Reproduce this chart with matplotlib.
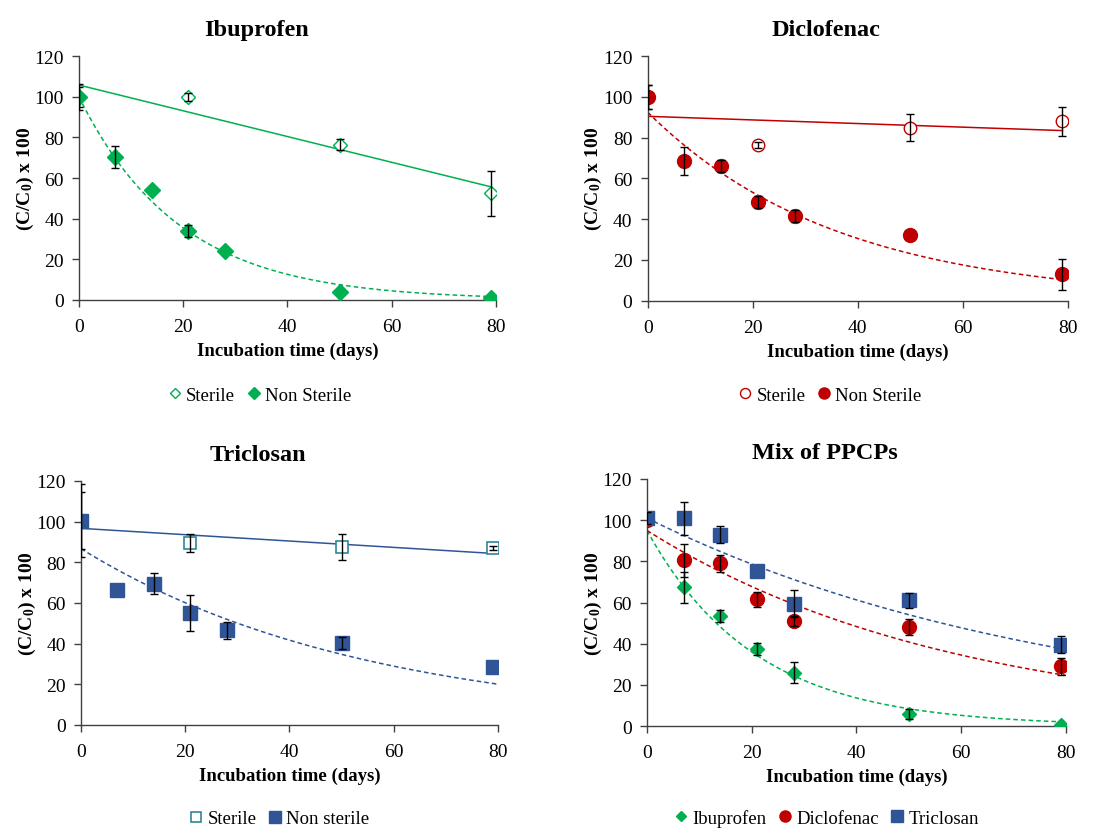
import matplotlib
matplotlib.use('Agg')
import matplotlib.pyplot as plt
import numpy as np

plt.rcParams['font.family'] = ['Liberation Serif', 'DejaVu Serif']
plt.rcParams['mathtext.fontset'] = 'custom'
plt.rcParams['mathtext.rm'] = 'Liberation Serif'
plt.rcParams['mathtext.bf'] = 'Liberation Serif:bold'
plt.rcParams['mathtext.default'] = 'bf'

# sampling days
days = [0, 7, 14, 21, 28, 50, 79]
days_ster = [0, 21, 50, 79]

# Ibuprofen
ibu_ster = [100, 100, 76.5, 52.5]
ibu_ster_err = [6.5, 2, 2.5, 11]
ibu_ns = [100, 70.5, 54, 34, 24, 4, 1]
ibu_ns_err = [5, 5.5, 0, 3, 0, 0, 0]
ibu_lin = (105.8, -0.634)      # sterile linear trend (intercept, slope)
ibu_exp = (100, 0.0518)        # non sterile exponential trend (C0, k)

# Diclofenac
dic_ster = [100, 76.5, 85, 88]
dic_ster_err = [6, 1.5, 6.5, 7]
dic_ns = [100, 68.5, 66, 48.5, 41.5, 32.5, 13]
dic_ns_err = [6, 7, 3, 3, 3, 0, 7.5]
dic_lin = (90.5, -0.0886)
dic_exp = (92.5, 0.0277)

# Triclosan
tri_ster = [100.5, 89.5, 87.5, 87]
tri_ster_err = [14, 4.5, 6.5, 1]
tri_ns = [100.5, 66.5, 69.5, 55, 46.5, 40.5, 28.5]
tri_ns_err = [18, 0, 5, 9, 4, 3, 0]
tri_lin = (96.7, -0.156)
tri_exp = (86.7, 0.0183)

# Mix of PPCPs
mix_ibu = [100, 67.5, 53.5, 37.5, 26, 6, 0.5]
mix_ibu_err = [0, 7.5, 3, 3, 5, 2.5, 0]
mix_dic = [100, 80.5, 79, 61.5, 51, 48, 29]
mix_dic_err = [0, 8, 4, 3.5, 2.5, 4, 4]
mix_tri = [101, 101, 93, 75.5, 59.5, 61, 39.5]
mix_tri_err = [3, 8, 4, 0, 6.5, 3.5, 4]
mix_ibu_exp = (95, 0.0485)
mix_dic_exp = (95, 0.0169)
mix_tri_exp = (101, 0.0125)

green = '#00B050'
red = '#C00000'
blue = '#2F5597'
teal = '#31859C'
axcol = '#404040'

fig = plt.figure(figsize=(11.12, 8.29), dpi=100)


def style(ax, title):
    ax.set_xlim(0, 80)
    ax.set_ylim(0, 120)
    ax.set_xticks([0, 20, 40, 60, 80])
    ax.set_yticks(range(0, 121, 20))
    for s in ['top', 'right']:
        ax.spines[s].set_visible(False)
    for s in ['left', 'bottom']:
        ax.spines[s].set_color(axcol)
        ax.spines[s].set_linewidth(1.0)
    ax.tick_params(direction='out', length=5, width=1, color=axcol, labelsize=14)
    ax.tick_params(axis='x', pad=8)
    ax.tick_params(axis='y', pad=6)
    ax.set_title(title, fontsize=17.5, fontweight='bold', pad=15, x=0.425)
    ax.set_xlabel('Incubation time (days)', fontsize=13.5, fontweight='bold', labelpad=5)
    ax.set_ylabel('(C/C$_0$) x 100', fontsize=14, fontweight='bold', labelpad=-1)


def lin(ax, p, color, end=79):
    t = np.linspace(0, end, 50)
    ax.plot(t, p[0] + p[1] * t, color=color, lw=1.1, zorder=2)


def expo(ax, p, color, end=80):
    t = np.linspace(0, end, 200)
    ax.plot(t, p[0] * np.exp(-p[1] * t), color=color, lw=1.1, ls=(0, (3, 2)), zorder=2)


def errs(ax, x, y, e):
    # only points that carry a visible error bar
    keep = [i for i in range(len(e)) if e[i] > 0]
    ax.errorbar([x[i] for i in keep], [y[i] for i in keep], yerr=[e[i] for i in keep],
                fmt='none', ecolor='black', elinewidth=1, capsize=3, capthick=1, zorder=5)


# Ibuprofen
ax1 = fig.add_axes([0.071, 0.637, 0.375, 0.294])
lin(ax1, ibu_lin, green)
expo(ax1, ibu_exp, green)
ax1.plot(days_ster, ibu_ster, 'D', ms=7, mfc='white', mec=green, mew=1, ls='none', label='Sterile', zorder=3)
ax1.plot(days, ibu_ns, 'D', ms=8, color=green, ls='none', label='Non Sterile', zorder=4)
errs(ax1, days_ster, ibu_ster, ibu_ster_err)
errs(ax1, days, ibu_ns, ibu_ns_err)
style(ax1, 'Ibuprofen')

# Diclofenac
ax2 = fig.add_axes([0.5825, 0.636, 0.3777, 0.295])
lin(ax2, dic_lin, red)
expo(ax2, dic_exp, red, end=79)
ax2.plot(days_ster, dic_ster, 'o', ms=9, mfc='white', mec=red, mew=1, ls='none', label='Sterile', zorder=3)
ax2.plot(days, dic_ns, 'o', ms=10, color=red, ls='none', label='Non Sterile', zorder=4)
errs(ax2, days_ster, dic_ster, dic_ster_err)
errs(ax2, days, dic_ns, dic_ns_err)
style(ax2, 'Diclofenac')

# Triclosan
ax3 = fig.add_axes([0.0728, 0.1243, 0.375, 0.2943])
lin(ax3, tri_lin, blue)
expo(ax3, tri_exp, blue)
ax3.plot(days_ster, tri_ster, 's', ms=9, mfc='white', mec=teal, mew=1.2, ls='none', label='Sterile', zorder=3)
ax3.plot(days, tri_ns, 's', ms=10.5, color=blue, ls='none', label='Non sterile', zorder=4)
errs(ax3, days_ster, tri_ster, tri_ster_err)
errs(ax3, days, tri_ns, tri_ns_err)
style(ax3, 'Triclosan')

# Mix
ax4 = fig.add_axes([0.5818, 0.123, 0.3768, 0.298])
expo(ax4, mix_ibu_exp, green)
expo(ax4, mix_dic_exp, red)
expo(ax4, mix_tri_exp, blue)
ax4.plot(days, mix_ibu, 'D', ms=7, color=green, ls='none', label='Ibuprofen', zorder=4)
ax4.plot(days, mix_dic, 'o', ms=10, color=red, ls='none', label='Diclofenac', zorder=4)
ax4.plot(days, mix_tri, 's', ms=10, color=blue, ls='none', label='Triclosan', zorder=4)
errs(ax4, days, mix_ibu, mix_ibu_err)
errs(ax4, days, mix_dic, mix_dic_err)
errs(ax4, days, mix_tri, mix_tri_err)
style(ax4, 'Mix of PPCPs')

legpos = [(ax1, 0.233, 0.522, 2), (ax2, 0.746, 0.522, 2), (ax3, 0.251, 0.011, 2), (ax4, 0.743, 0.012, 3)]
for ax, x, y, n in legpos:
    h, l = ax.get_legend_handles_labels()
    leg = fig.legend(h, l, loc='center', bbox_to_anchor=(x, y), ncol=n, frameon=False,
                     fontsize=13.5, handlelength=0.8, handletextpad=0.2, columnspacing=0.6,
                     markerscale=0.8, borderpad=0.2)

fig.savefig('out.png', dpi=100)
